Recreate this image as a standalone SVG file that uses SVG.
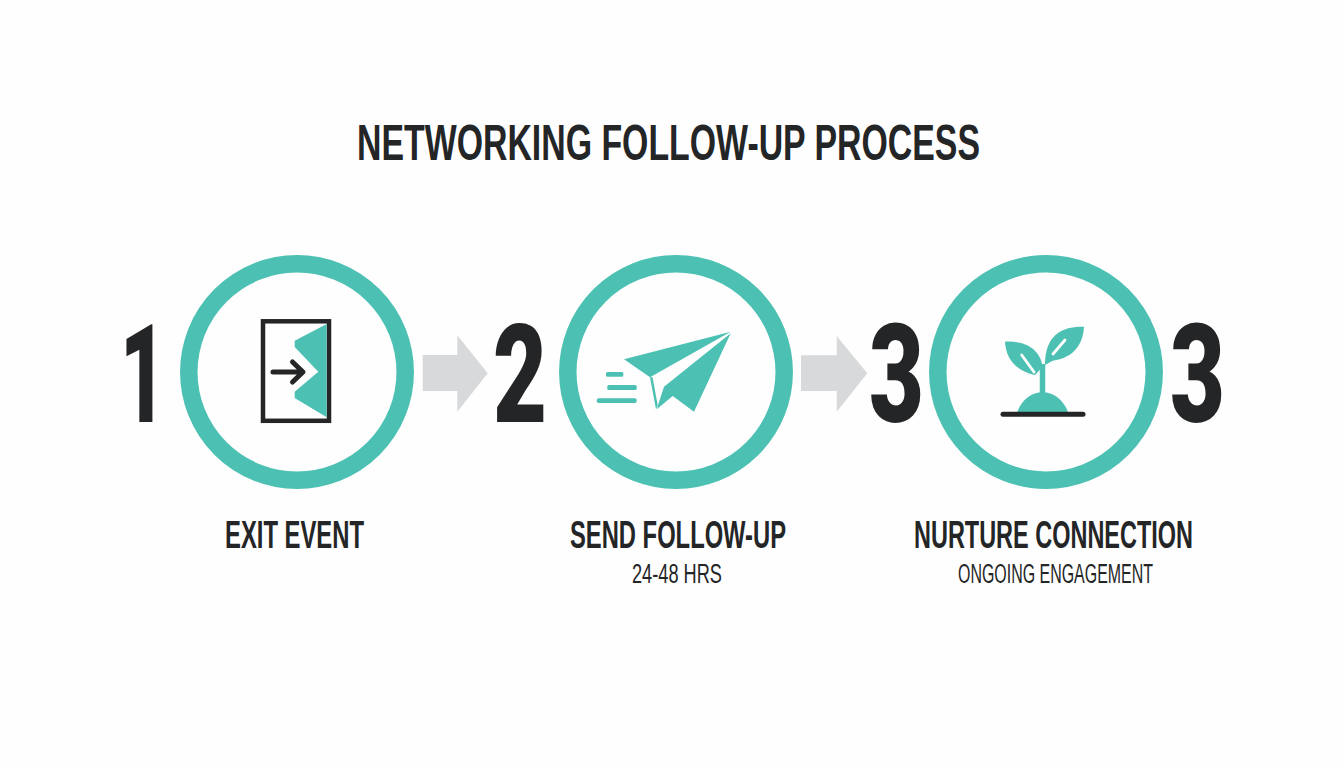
<svg xmlns="http://www.w3.org/2000/svg" width="1344" height="768" viewBox="0 0 1344 768">
<style>
text{font-family:"Liberation Sans Narrow","Liberation Sans",Arial,sans-serif;fill:#242526}
.t{font-weight:700;font-size:50px}
.l{font-weight:700;font-size:39px}
.s{font-weight:400;font-size:27px}
.n{font-family:Roboto,"Liberation Sans",sans-serif;font-weight:900;font-size:138px}
.r{fill:none;stroke:#4cc1b3;stroke-width:17.5}
.teal{fill:#4cc1b3}
.arrow{fill:#d8d9da}
</style>
<rect width="1344" height="768" fill="#fefefe"/>
<text id="title" class="t" x="357" y="160" textLength="623" lengthAdjust="spacingAndGlyphs">NETWORKING FOLLOW-UP PROCESS</text>
<g id="connectors">
<polygon class="arrow" points="422.7,355 457.3,355 457.3,335.3 487.7,373.3 457.3,411.7 457.3,391 422.7,391"/>
<polygon class="arrow" points="801,355.3 836.7,355.3 836.7,336 867.3,373.3 836.7,411.7 836.7,391 801,391"/>
</g>
<g id="node-1">
<text class="n" x="120" y="421.500" textLength="46" lengthAdjust="spacingAndGlyphs">1</text>
<circle class="r" cx="297" cy="372" r="108.2"/>
<rect x="263" y="321.3" width="66" height="99.5" fill="none" stroke="#242526" stroke-width="4.5"/>
<polygon class="teal" points="326.7,324 294.7,340.7 294.7,347 318.3,371.7 294.7,391.700 294.7,398 326.7,417.3"/>
<path d="M273 372H302M292.500 362L303 372L292.500 382" fill="none" stroke="#242526" stroke-width="5" stroke-linecap="round" stroke-linejoin="round"/>
<text class="l" x="225" y="548" textLength="139" lengthAdjust="spacingAndGlyphs">EXIT EVENT</text>
</g>
<g id="node-2">
<text class="n" x="493" y="421.500" textLength="54" lengthAdjust="spacingAndGlyphs">2</text>
<circle class="r" cx="676" cy="372" r="108.2"/>
<polygon class="teal" points="730.7,331.700 624,359.300 650,377.300"/>
<polygon class="teal" points="730.700,333.300 694,411.700 672.700,396 656.700,409.300 664,386.700"/>
<polygon class="teal" points="650,377.300 652.500,377 657.700,405 656,409.300"/>
<rect class="teal" x="606" y="372" width="17.300" height="4.700" rx="1.500"/>
<rect class="teal" x="607.300" y="385" width="29.400" height="5" rx="1.500"/>
<rect class="teal" x="596.700" y="398.300" width="40" height="4.700" rx="2"/>
<text class="l" x="570" y="548" textLength="216" lengthAdjust="spacingAndGlyphs">SEND FOLLOW-UP</text>
<text class="s" x="632" y="583" textLength="90" lengthAdjust="spacingAndGlyphs">24-48 HRS</text>
</g>
<g id="node-3">
<text class="n" x="869" y="421.500" textLength="55" lengthAdjust="spacingAndGlyphs">3</text>
<circle class="r" cx="1046" cy="372" r="108.2"/>
<path class="teal" d="M1005 341.700C1020 340.500 1040 346 1042.500 367L1035 375C1020 372 1006 362 1005 341.700Z"/>
<path class="teal" d="M1084 326.700C1063 326 1045 334 1045 365L1052.700 360.700C1073 358 1083 345 1084 326.700Z"/>
<path d="M1021.700 355L1034 372M1065 340L1053 354" fill="none" stroke="#fefefe" stroke-width="2.800" stroke-linecap="round"/>
<path d="M1042.500 396V364" fill="none" stroke="#4cc1b3" stroke-width="5.500"/>
<path class="teal" d="M1017.300 412C1022 399 1032 392.300 1042.600 392.300C1053 392.300 1063 399 1068 412Z"/>
<path d="M1003 414.300H1083" fill="none" stroke="#242526" stroke-width="5" stroke-linecap="round"/>
<text class="l" x="914" y="548" textLength="279" lengthAdjust="spacingAndGlyphs">NURTURE CONNECTION</text>
<text class="s" x="958" y="583" textLength="195" lengthAdjust="spacingAndGlyphs">ONGOING ENGAGEMENT</text>
</g>
<g id="node-3b">
<text class="n" x="1170" y="421.500" textLength="55" lengthAdjust="spacingAndGlyphs">3</text>
</g>
</svg>
